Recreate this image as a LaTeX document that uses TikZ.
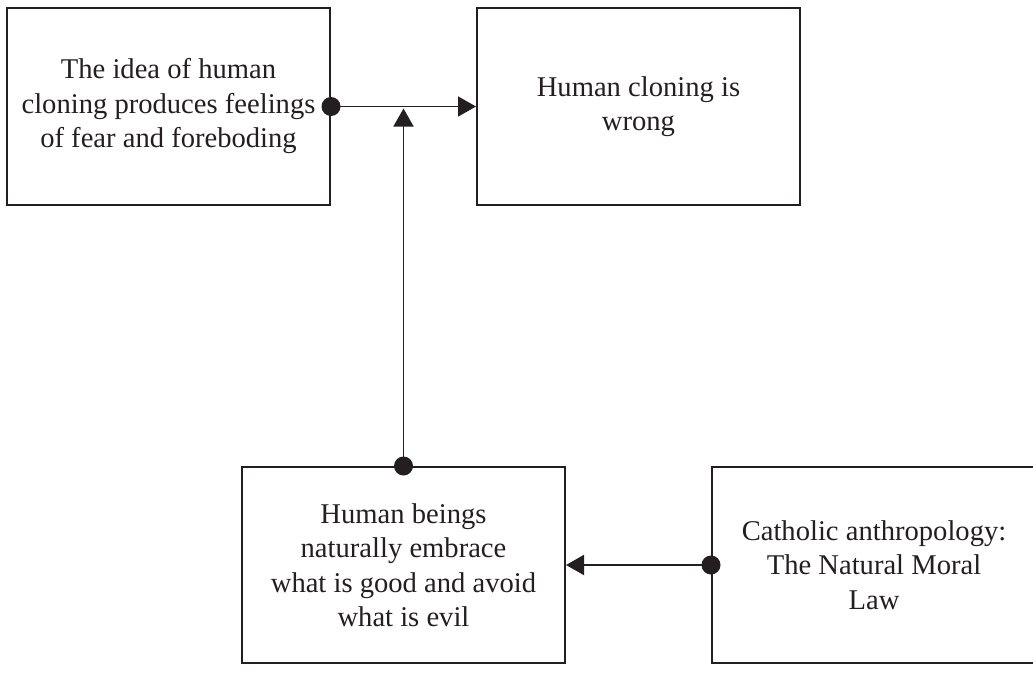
\documentclass[tikz,border=0pt]{standalone}
\usepackage{fontspec}
\setmainfont{Liberation Serif}
\usetikzlibrary{arrows.meta}
\definecolor{ink}{HTML}{231F20}
\begin{document}
\begin{tikzpicture}[x=1pt,y=-1pt,
  claim/.style={draw=ink, line width=2pt, rectangle, inner sep=0pt,
    align=center, text=ink, font=\fontsize{28.6}{34.5}\selectfont},
  link/.style={draw=ink, line width=1.8pt, -{Triangle[length=18pt,width=20pt]}},
  dotr/.style={fill=ink}]
  \useasboundingbox (0,0) rectangle (1033,680);
  \clip (0,0) rectangle (1033,680);
  % argument boxes
  \node[claim, minimum width=323pt, minimum height=197pt] (a) at (168.5,106.5)
    {The idea of human\\cloning produces feelings\\of fear and foreboding};
  \node[claim, minimum width=323pt, minimum height=197pt] (b) at (638.5,106.5)
    {Human cloning is\\wrong};
  \node[claim, minimum width=323pt, minimum height=196pt] (c) at (403.5,565)
    {Human beings\\naturally embrace\\what is good and avoid\\what is evil};
  \node[claim, minimum width=324pt, minimum height=196pt] (d) at (874,565)
    {Catholic anthropology:\\The Natural Moral\\Law};
  % junction where the support meets the inference line
  \coordinate (j) at (c.north |- a.east);
  % connectors
  \draw[link] (a.east) -- (b.west);
  \draw[link, shorten >=2pt] (c.north) -- (j);
  \draw[link] (d.west) -- (c.east);
  % origin dots
  \fill[dotr] (a.east) circle (9.5pt);
  \fill[dotr] (c.north) circle (9.5pt);
  \fill[dotr] (d.west) circle (9.5pt);
\end{tikzpicture}
\end{document}
